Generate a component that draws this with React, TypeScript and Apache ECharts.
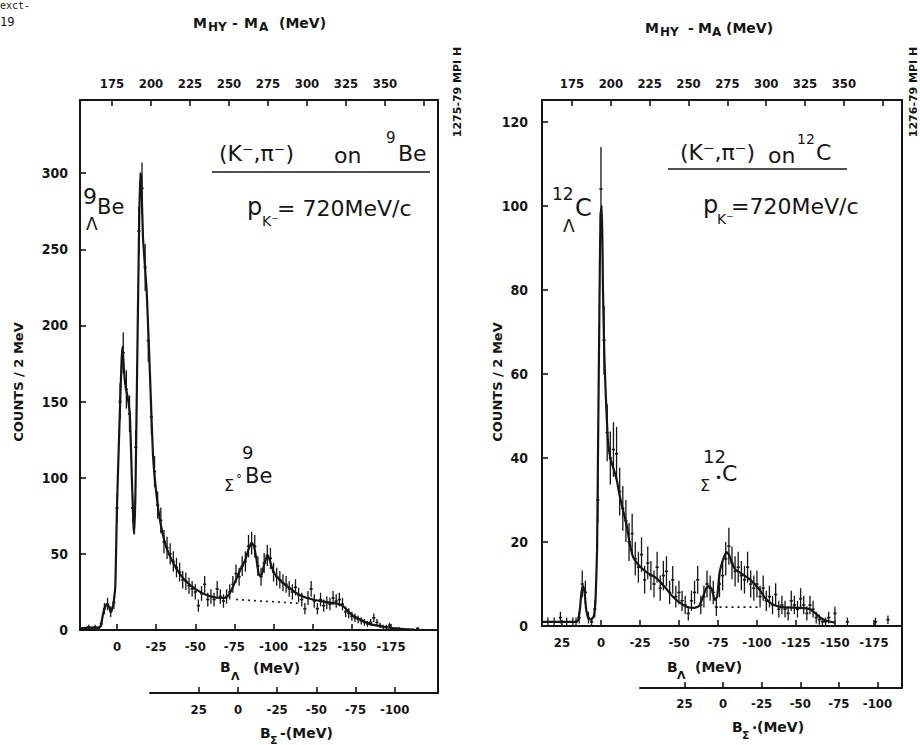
import React, { useEffect, useRef } from "react";
import * as echarts from "echarts";

const INK = "#161616";
const FONT_AX = '"DejaVu Sans Condensed", "DejaVu Sans", sans-serif';
const FONT_TXT = '"DejaVu Sans", sans-serif';

// ---------- tick values ----------
const beLambdaTicks = [0, -25, -50, -75, -100, -125, -150, -175];
const cLambdaTicks = [25, 0, -25, -50, -75, -100, -125, -150, -175];
const massTicks = [175, 200, 225, 250, 275, 300, 325, 350, 375];
const massLabels = [175, 200, 225, 250, 275, 300, 325, 350];
const sigmaTicks = [25, 0, -25, -50, -75, -100];

// ---------- 9Be : fit curve [B_Lambda, counts] ----------
const beFit: [number, number][] = [
  [23.6, 1], [18, 1.5], [14, 1.5], [11, 2], [10, 4], [9, 10], [8, 14], [6.5, 17], [5, 15], [4, 12],
  [3, 14], [2, 19], [1, 30], [0, 80], [-1, 115], [-2, 148], [-3, 178], [-3.6, 186], [-4.5, 170],
  [-5.5, 160], [-7, 152], [-8.3, 140], [-9.5, 100], [-10.5, 70], [-11, 63], [-11.8, 90], [-12.8, 165],
  [-14, 255], [-14.8, 300], [-15.5, 298], [-16.6, 258], [-19, 222], [-21, 170], [-23, 115], [-26, 82],
  [-29, 64], [-32, 53], [-36, 44], [-40, 37], [-45, 31], [-50, 27], [-55, 24], [-60, 22], [-66, 21],
  [-70, 21.5], [-73, 26], [-76, 33], [-79, 40], [-82, 46], [-84, 53], [-86, 57], [-87.5, 55], [-89, 47],
  [-90.5, 37], [-92, 35], [-94, 43], [-96, 49], [-97.5, 46], [-100, 38], [-103, 34], [-107, 30],
  [-111, 27], [-115, 24], [-120, 21.5], [-125, 20], [-130, 19], [-136, 18], [-140, 17.5], [-144, 16],
  [-147, 13], [-150, 10], [-154, 7.5], [-158, 5.5], [-163, 3.5], [-168, 2.5], [-174, 1.5], [-180, 0.8],
  [-190, 0.3],
];
// 9Be : quasi-free background under the Sigma region
const beBackground: [number, number][] = [[-76, 20], [-117, 17.5]];
// 9Be : measured points [B_Lambda, counts, error]
const beData: [number, number, number][] = [
  [22, 1, 1], [20, 1, 1], [18, 2, 1.4], [16, 1, 1], [14, 2, 1.4], [12, 1, 1], [10, 4, 2], [8, 14, 3.7],
  [6, 17, 4.1], [4, 12, 3.5], [2, 18, 4.2], [0, 80, 9], [-2, 150, 12], [-4, 182, 13.5], [-6, 158, 12.6],
  [-8, 142, 12], [-10, 80, 9], [-12, 120, 11], [-14, 262, 16], [-16, 290, 17], [-18, 238, 15.4],
  [-20, 190, 13.8], [-22, 140, 11.8], [-24, 104, 10.2], [-26, 82, 9], [-28, 72, 8.5], [-30, 58, 7.6],
  [-32, 54, 7.3], [-34, 50, 7], [-36, 45, 6.7], [-38, 41, 6.4], [-40, 38, 6.2], [-42, 33, 5.7],
  [-44, 32, 5.7], [-46, 29, 5.4], [-48, 27, 5.2], [-50, 25, 5], [-52, 16, 4], [-54, 24, 4.9],
  [-56, 30, 5.5], [-58, 20, 4.5], [-60, 22, 4.7], [-62, 20, 4.5], [-64, 27, 5.2], [-66, 22, 4.7],
  [-68, 19, 4.4], [-70, 22, 4.7], [-72, 25, 5], [-74, 30, 5.5], [-76, 37, 6], [-78, 35, 5.9],
  [-80, 42, 6.5], [-82, 45, 6.7], [-84, 55, 7.4], [-86, 57, 7.5], [-88, 55, 7.4], [-90, 42, 6.5],
  [-92, 35, 5.9], [-94, 44, 6.6], [-96, 49, 7], [-98, 47, 6.9], [-100, 38, 6.2], [-102, 35, 5.9],
  [-104, 33, 5.7], [-106, 31, 5.6], [-108, 30, 5.5], [-110, 27, 5.2], [-112, 25, 5], [-114, 28, 5.3],
  [-116, 23, 4.8], [-118, 20, 4.5], [-120, 14, 3.7], [-122, 21, 4.6], [-124, 27, 5.2], [-126, 19, 4.4],
  [-128, 14, 3.7], [-130, 20, 4.5], [-132, 16, 4], [-134, 18, 4.2], [-136, 17, 4.1], [-138, 21, 4.6],
  [-140, 19, 4.4], [-142, 20, 4.5], [-144, 17, 4.1], [-146, 12, 3.5], [-148, 11, 3.3], [-150, 9, 3],
  [-152, 8, 2.8], [-154, 7, 2.6], [-156, 6, 2.4], [-158, 5, 2.2], [-160, 4, 2], [-162, 5, 2.2],
  [-164, 8, 2.8], [-166, 5, 2.2], [-168, 3, 1.7], [-170, 2, 1.4], [-172, 2, 1.4], [-174, 3, 1.7],
  [-176, 1, 1], [-178, 1, 1], [-180, 1, 1], [-192, 1, 1],
];

// ---------- 12C : fit curve ----------
const cFit: [number, number][] = [
  [37.8, 1], [30, 1], [20, 1], [16, 1], [14.5, 1.5], [13.5, 4], [12.5, 8], [11.5, 9.5], [10.5, 8],
  [9.5, 4], [8, 1.8], [6, 1.5], [4.5, 2.5], [3.5, 6], [2.5, 18], [1.8, 45], [1, 75], [0.3, 98],
  [-0.6, 100], [-1.3, 80], [-2.2, 64], [-3.2, 54], [-4.5, 44], [-6, 40], [-8, 37.5], [-10, 35],
  [-12, 31], [-14.5, 27], [-16.5, 24], [-18.5, 19.5], [-20.5, 16.5], [-23, 15], [-26, 13.8], [-30, 12.6],
  [-34, 11.8], [-38, 10.5], [-42, 8.8], [-46, 7], [-50, 5.7], [-55, 4.6], [-60, 4.3], [-63, 4.8],
  [-65.5, 7], [-67.5, 9], [-69, 9.5], [-71, 8.8], [-73, 6.2], [-74.5, 7], [-76, 12.5], [-78, 15.5],
  [-80.5, 17.6], [-82, 17], [-84, 15], [-86, 13.5], [-90, 12.5], [-94, 11.5], [-98, 10.2], [-102, 8.5],
  [-105, 6.8], [-109, 5.4], [-114, 4.6], [-120, 4.4], [-128, 4.3], [-134, 4], [-137, 3.2], [-140, 2.2],
  [-143, 1.5], [-147, 1], [-150, 0.8],
];
const cBackground: [number, number][] = [[-76, 4.5], [-102, 4.5]];
const cData: [number, number, number][] = [
  [34, 1, 1], [30, 1, 1], [26, 2, 1.4], [22, 1, 1], [18, 1, 1], [16, 1, 1], [14, 2, 1.4], [12, 10, 3.2],
  [10, 8, 2.8], [8, 2, 1.4], [6, 1, 1], [4, 4, 2], [2, 30, 5.5], [0, 104, 10], [-2, 68, 8.2], [-4, 46, 6.8],
  [-6, 40, 6.3], [-8, 42, 6.5], [-10, 41, 6.4], [-12, 32, 5.7], [-14, 28, 5.3], [-16, 25, 5], [-18, 20, 4.5],
  [-20, 22, 4.7], [-22, 16, 4], [-24, 14, 3.7], [-26, 17, 4.1], [-28, 11, 3.3], [-30, 15, 3.9],
  [-32, 12, 3.5], [-34, 10, 3.2], [-36, 14, 3.7], [-38, 9, 3], [-40, 12, 3.5], [-42, 13, 3.6],
  [-44, 8, 2.8], [-46, 11, 3.3], [-48, 7, 2.6], [-50, 8, 2.8], [-52, 6, 2.4], [-54, 5, 2.2], [-56, 3, 1.7],
  [-58, 6, 2.4], [-60, 8, 2.8], [-62, 11, 3.3], [-64, 5, 2.2], [-66, 7, 2.6], [-68, 10, 3.2], [-70, 9, 3],
  [-72, 8, 2.8], [-74, 4.5, 2.1], [-76, 10, 3.2], [-78, 12, 3.5], [-80, 16, 4], [-82, 19, 4.4],
  [-84, 15, 3.9], [-86, 13, 3.6], [-88, 14, 3.7], [-90, 12, 3.5], [-92, 11, 3.3], [-94, 14, 3.7],
  [-96, 10, 3.2], [-98, 9, 3], [-100, 10, 3.2], [-102, 7, 2.6], [-104, 9, 3], [-106, 6, 2.4],
  [-108, 7, 2.6], [-110, 5, 2.2], [-112, 7.5, 2.7], [-114, 4, 2], [-116, 5, 2.2], [-118, 4, 2],
  [-120, 3, 1.7], [-122, 6, 2.4], [-124, 5, 2.2], [-126, 4, 2], [-128, 6.5, 2.5], [-130, 5, 2.2],
  [-132, 3, 1.7], [-134, 5, 2.2], [-136, 4, 2], [-138, 2, 1.4], [-140, 1.5, 1.2], [-142, 1, 1],
  [-144, 1, 1], [-146, 2, 1.4], [-150, 3, 1.6], [-158, 1, 1], [-176, 1, 1], [-184, 1.5, 1],
];

// ---------- helpers ----------
function xAxis(gridIndex: number, position: string, min: number, max: number, inverse: boolean,
  ticks: number[], labels: number[], margin: number) {
  return {
    type: "value", gridIndex, position, min, max, inverse,
    axisLine: { show: true, onZero: false, lineStyle: { color: INK, width: 2 } },
    axisTick: { show: true, inside: true, length: 6, customValues: ticks, lineStyle: { color: INK, width: 1.6 } },
    axisLabel: { show: true, customValues: labels, margin, color: INK, fontFamily: FONT_AX, fontWeight: "bold", fontSize: 13 },
    splitLine: { show: false },
  };
}
function yAxis(gridIndex: number, max: number, interval: number, margin: number) {
  return {
    type: "value", gridIndex, position: "left", min: 0, max, interval,
    axisLine: { show: true, onZero: false, lineStyle: { color: INK, width: 2 } },
    axisTick: { show: true, inside: true, length: 6, lineStyle: { color: INK, width: 1.6 } },
    axisLabel: { margin, color: INK, fontFamily: FONT_AX, fontWeight: "bold", fontSize: 14, showMaxLabel: false },
    splitLine: { show: false },
  };
}
function frameAxis(gridIndex: number) {
  return {
    type: "value", gridIndex, position: "right", min: 0, max: 1,
    axisLine: { show: true, onZero: false, lineStyle: { color: INK, width: 2 } },
    axisTick: { show: false }, axisLabel: { show: false }, splitLine: { show: false },
  };
}
function txt(x: number, y: number, text: string, size: number, weight = "normal", rot = 0, align = "left") {
  return {
    type: "text", x, y, rotation: rot, silent: true,
    style: {
      text, fontSize: size, fontFamily: FONT_TXT, fontWeight: weight, fill: INK,
      textAlign: align, textVerticalAlign: "middle", align, verticalAlign: "middle",
    },
  };
}
function hline(x1: number, x2: number, y: number) {
  return { type: "line", silent: true, shape: { x1, y1: y, x2, y2: y }, style: { stroke: INK, lineWidth: 1.6 } };
}
const errorBars = (params: any, api: any) => {
  const x = api.value(0), y = api.value(1), e = api.value(2);
  const top = api.coord([x, y + e]);
  const bot = api.coord([x, Math.max(0, y - e)]);
  const mid = api.coord([x, y]);
  return {
    type: "group",
    children: [
      { type: "line", shape: { x1: top[0], y1: top[1], x2: bot[0], y2: bot[1] }, style: { stroke: INK, lineWidth: 1.3 } },
      { type: "line", shape: { x1: mid[0] - 1.6, y1: mid[1], x2: mid[0] + 1.6, y2: mid[1] }, style: { stroke: INK, lineWidth: 1.6 } },
    ],
  };
};

const option: any = {
  animation: false,
  backgroundColor: "#ffffff",
  grid: [
    { left: 80, top: 100, width: 358, height: 530 },
    { left: 150, top: 630, width: 288, height: 63 },
    { left: 542, top: 100, width: 360, height: 526 },
    { left: 640, top: 626, width: 262, height: 62 },
  ],
  xAxis: [
    xAxis(0, "bottom", -205, 23.6, true, beLambdaTicks, beLambdaTicks, 10),
    xAxis(0, "top", 154.5, 384, false, massTicks, massLabels, 10),
    xAxis(1, "bottom", -127.6, 56.1, true, sigmaTicks, sigmaTicks, 10),
    xAxis(2, "bottom", -193, 37.8, true, cLambdaTicks, cLambdaTicks, 10),
    xAxis(2, "top", 155.7, 387.4, false, massTicks, massLabels, 10),
    xAxis(3, "bottom", -115.9, 53.8, true, sigmaTicks, sigmaTicks, 9),
  ],
  yAxis: [
    yAxis(0, 348, 50, 12),
    frameAxis(0),
    frameAxis(1),
    yAxis(2, 125.2, 20, 14),
    frameAxis(2),
    frameAxis(3),
  ],
  series: [
    { type: "line", name: "9Be fit", xAxisIndex: 0, yAxisIndex: 0, data: beFit, showSymbol: false, smooth: 0.15, lineStyle: { color: INK, width: 2.2 } },
    { type: "line", name: "9Be background", xAxisIndex: 0, yAxisIndex: 0, data: beBackground, showSymbol: false, lineStyle: { color: INK, width: 1.6, type: [2, 4] } },
    { type: "custom", name: "9Be data", xAxisIndex: 0, yAxisIndex: 0, data: beData, renderItem: errorBars, encode: { x: 0, y: 1 }, clip: true },
    { type: "line", name: "12C fit", xAxisIndex: 3, yAxisIndex: 3, data: cFit, showSymbol: false, smooth: 0.15, lineStyle: { color: INK, width: 2.2 } },
    { type: "line", name: "12C background", xAxisIndex: 3, yAxisIndex: 3, data: cBackground, showSymbol: false, lineStyle: { color: INK, width: 1.6, type: [2, 4] } },
    { type: "custom", name: "12C data", xAxisIndex: 3, yAxisIndex: 3, data: cData, renderItem: errorBars, encode: { x: 0, y: 1 }, clip: true },
  ],
  graphic: [
    // corner remnants
    { type: "text", x: 0, y: 0, silent: true, style: { text: "exct-", fontSize: 10, fontFamily: '"DejaVu Sans Mono", monospace', fill: INK, textVerticalAlign: "top", verticalAlign: "top" } },
    { type: "text", x: 0, y: 22, silent: true, style: { text: "19", fontSize: 12, fontFamily: '"DejaVu Sans Mono", monospace', fill: INK, textVerticalAlign: "middle", verticalAlign: "middle" } },
    // top axis titles
    txt(193, 23, "M", 14, "bold"), txt(208, 27, "HY", 12, "bold"), txt(232, 23, "-", 14, "bold"),
    txt(244, 23, "M", 14, "bold"), txt(259, 27, "A", 12, "bold"), txt(279, 23, "(MeV)", 14, "bold"),
    txt(645, 28, "M", 14, "bold"), txt(660, 32, "HY", 12, "bold"), txt(688, 28, "-", 14, "bold"),
    txt(698, 28, "M", 14, "bold"), txt(712, 32, "A", 12, "bold"), txt(726, 28, "(MeV)", 14, "bold"),
    // B_Lambda titles
    txt(220, 667, "B", 14, "bold"), txt(231, 676, "Λ", 11, "bold"), txt(253, 668, "(MeV)", 14, "bold"),
    txt(667, 667, "B", 14, "bold"), txt(677, 675, "Λ", 11, "bold"), txt(695, 667, "(MeV)", 14, "bold"),
    // B_Sigma titles
    txt(260, 733, "B", 14, "bold"), txt(270, 740, "Σ", 11, "bold"), txt(280, 733, "-(MeV)", 14, "bold"),
    txt(732, 727, "B", 14, "bold"), txt(742, 735, "Σ", 11, "bold"), txt(752, 728, "•", 8, "bold"), txt(757, 727, "(MeV)", 14, "bold"),
    // y titles
    txt(18, 382, "COUNTS / 2 MeV", 13, "bold", Math.PI / 2, "center"),
    txt(497, 382, "COUNTS / 2 MeV", 13, "bold", Math.PI / 2, "center"),
    // plate codes
    txt(457, 92, "1275-79 MPI H", 11, "bold", Math.PI / 2, "center"),
    txt(913, 92, "1276-79 MPI H", 11, "bold", Math.PI / 2, "center"),
    // left panel annotation
    txt(219, 153, "(K⁻,π⁻)", 22), txt(334, 155, "on", 22), txt(386, 138, "9", 15), txt(398, 153, "Be", 22),
    hline(212, 430, 172),
    txt(247, 207, "p", 24), txt(262, 221, "K⁻", 14), txt(277, 208, "= 720MeV/c", 22),
    txt(83, 196, "9", 22), txt(97, 207, "Be", 21), txt(86, 224, "Λ", 17),
    txt(242, 452, "9", 18), txt(245, 476, "Be", 21), txt(224, 485, "Σ", 16), txt(236, 479, "°", 12),
    // right panel annotation
    txt(680, 152, "(K⁻,π⁻)", 22), txt(768, 155, "on", 22), txt(797, 139, "12", 14), txt(816, 152, "C", 22),
    hline(668, 847, 169),
    txt(703, 205, "p", 24), txt(717, 219, "K⁻", 14), txt(731, 206, "=720MeV/c", 22),
    txt(552, 194, "12", 17), txt(575, 208, "C", 24), txt(563, 226, "Λ", 17),
    txt(703, 456, "12", 18), txt(722, 473, "C", 22), txt(700, 485, "Σ", 16), txt(715, 478, "•", 12),
  ],
};

export default function App() {
  const ref = useRef<HTMLDivElement>(null);
  useEffect(() => {
    const chart = echarts.init(ref.current as HTMLDivElement, null, { renderer: "svg" });
    chart.setOption(option);
    return () => chart.dispose();
  }, []);
  return (
    <div
      ref={ref}
      style={{ position: "absolute", left: 0, top: 0, width: 920, height: 745, background: "#ffffff" }}
    />
  );
}
